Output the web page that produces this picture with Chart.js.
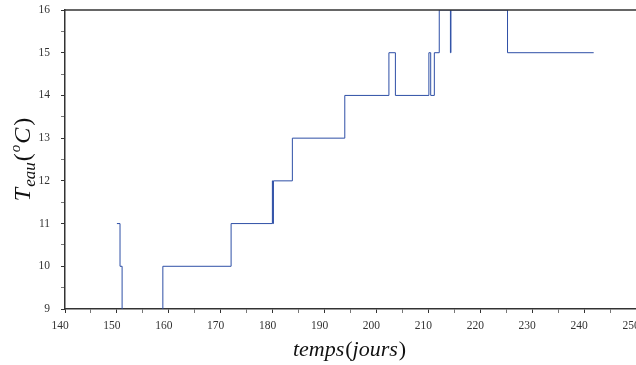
<!DOCTYPE html>
<html>
<head>
<meta charset="utf-8">
<script src="https://cdn.jsdelivr.net/npm/chart.js@4.4.0/dist/chart.umd.min.js"></script>
<style>
  html, body { margin: 0; padding: 0; background: #fff; }
  canvas { display: block; }
</style>
</head>
<body>
<canvas id="tempChart" width="636" height="365"></canvas>
<script>
// water temperature steps (day of year -> temperature reached at that day)
const days  = [150.0, 150.6, 151.0, 158.85, 172.0, 179.95, 180.05, 180.15, 183.8, 193.9, 202.4, 203.65, 210.1, 210.45, 211.15, 212.1, 214.25, 214.35, 225.25, 241.85];
const temps = [11,    10,    8,     10,     11,    12,     11,     12,     13,    14,    15,    14,     15,    14,     15,     16,    15,     16,     15,     15];

const xMin = 140, xMax = 250;
const yMin = 9, yMax = 16;

const AXIS = '#333333';
const SERIF = "'Liberation Serif', 'DejaVu Serif', serif";

const points = days.map((d, i) => ({ x: d, y: temps[i] }));

// draw a run of text pieces with their own fonts and baseline shifts
function drawPieces(ctx, parts) {
  let total = 0;
  parts.forEach(p => { ctx.font = p.font; p.w = ctx.measureText(p.t).width + (p.gap || 0); total += p.w; });
  let x = -total / 2;
  parts.forEach(p => {
    ctx.font = p.font;
    ctx.fillText(p.t, x, p.dy || 0);
    x += p.w;
  });
}

// axis titles + top frame line
const decorPlugin = {
  id: 'decor',
  afterDraw(chart) {
    const ctx = chart.ctx;
    const area = chart.chartArea;
    ctx.save();

    // top border
    ctx.strokeStyle = AXIS;
    ctx.lineWidth = 1.5;
    ctx.beginPath();
    ctx.moveTo(area.left, area.top);
    ctx.lineTo(chart.width, area.top);
    ctx.stroke();

    ctx.fillStyle = '#111';
    ctx.textAlign = 'left';
    ctx.textBaseline = 'alphabetic';

    // x title: temps(jours)
    ctx.save();
    ctx.translate((area.left + area.right) / 2 - 1, 356);
    drawPieces(ctx, [
      { t: 'temps', font: 'italic 22px ' + SERIF, gap: 1 },
      { t: '(',     font: '22px ' + SERIF },
      { t: 'jours', font: 'italic 22px ' + SERIF, gap: 1 },
      { t: ')',     font: '22px ' + SERIF }
    ]);
    ctx.restore();

    // y title: T_eau(°C)
    ctx.save();
    ctx.translate(30, (area.top + area.bottom) / 2);
    ctx.rotate(-Math.PI / 2);
    drawPieces(ctx, [
      { t: 'T',   font: 'italic 24px ' + SERIF, gap: 1 },
      { t: 'eau', font: 'italic 17px ' + SERIF, dy: 5, gap: 1 },
      { t: '(',   font: '24px ' + SERIF, gap: 1 },
      { t: 'o',   font: 'italic 15px ' + SERIF, dy: -10, gap: 1 },
      { t: 'C',   font: 'italic 24px ' + SERIF, gap: 2 },
      { t: ')',   font: '24px ' + SERIF }
    ]);
    ctx.restore();

    ctx.restore();
  }
};

new Chart(document.getElementById('tempChart'), {
  type: 'line',
  data: {
    datasets: [{
      data: points,
      borderColor: '#2e4fa6',
      borderWidth: 1,
      pointRadius: 0,
      stepped: 'before',
      fill: false
    }]
  },
  options: {
    responsive: false,
    animation: false,
    layout: { padding: { top: 10, right: 0, left: 0, bottom: 0 } },
    plugins: {
      legend: { display: false },
      tooltip: { enabled: false }
    },
    scales: {
      x: {
        type: 'linear',
        min: xMin,
        max: xMax,
        afterFit: (s) => { s.height = 56; s.paddingLeft = 0; s.paddingRight = 0; },
        border: { display: true, color: AXIS, width: 1.5 },
        grid: {
          display: true, drawOnChartArea: false, drawTicks: true, tickLength: 4,
          color: AXIS,
          tickColor: (c) => (c.tick && c.tick.value % 10 === 0 ? AXIS : '#777')
        },
        ticks: {
          stepSize: 5,
          autoSkip: false,
          maxRotation: 0,
          padding: 6,
          labelOffset: -5,
          color: '#333',
          font: { family: SERIF, size: 11.5 },
          callback: (v) => (v % 10 === 0 ? v : '')
        }
      },
      y: {
        type: 'linear',
        min: yMin,
        max: yMax,
        afterFit: (s) => { s.width = 65; s.paddingTop = 0; s.paddingBottom = 0; },
        border: { display: true, color: AXIS, width: 1.5 },
        grid: {
          display: true, drawOnChartArea: false, drawTicks: true, tickLength: 4,
          color: AXIS,
          tickColor: (c) => (c.tick && Number.isInteger(c.tick.value) ? AXIS : '#777')
        },
        ticks: {
          stepSize: 0.5,
          autoSkip: false,
          padding: 11,
          color: '#333',
          font: { family: SERIF, size: 11.5 },
          callback: (v) => (Number.isInteger(v) ? v : '')
        }
      }
    }
  },
  plugins: [decorPlugin]
});
</script>
</body>
</html>
